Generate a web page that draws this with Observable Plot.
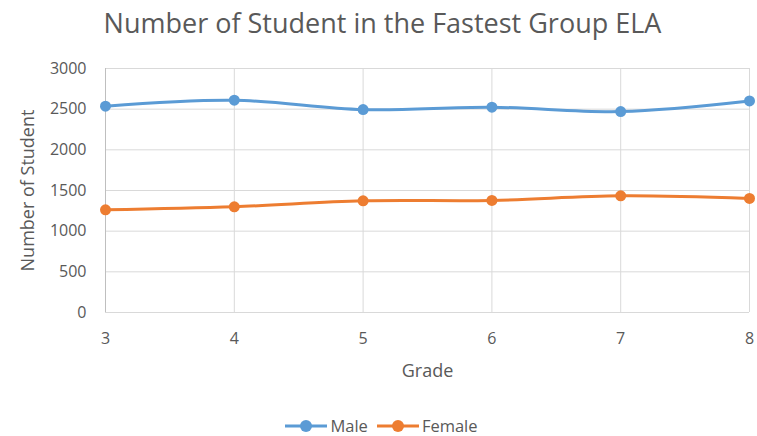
<!DOCTYPE html>
<html>
<head>
<meta charset="utf-8">
<script src="https://cdn.jsdelivr.net/npm/d3@7"></script>
<script src="https://cdn.jsdelivr.net/npm/@observablehq/plot@0.6"></script>
<style>
  html, body { margin: 0; padding: 0; background: #fff; }
  body { width: 757px; height: 436px; overflow: hidden; font-family: "Open Sans", Lato, sans-serif; color: #595959; }
  #title { height: 45px; line-height: 45px; text-align: center; font-size: 27px; color: #595959; padding-left: 8px; }
  #chart svg { display: block; }
  #legend { display: flex; justify-content: center; align-items: center; gap: 9px; font-size: 16.5px; line-height: 20px; color: #595959; height: 20px; margin-top: 16px; margin-left: 6px; }
  .item { display: flex; align-items: center; gap: 3px; }
</style>
</head>
<body>
<div id="title">Number of Student in the Fastest Group ELA</div>
<div id="chart"></div>
<div id="legend"></div>
<script>
const grades = [3, 4, 5, 6, 7, 8];
const male = [2537, 2610, 2495, 2524, 2471, 2601];
const female = [1263, 1300, 1373, 1378, 1434, 1402];
const seriesNames = ["Male", "Female"];
const colors = ["#5b9bd5", "#ed7d31"];
const yTicks = [0, 500, 1000, 1500, 2000, 2500, 3000];

const data = [];
grades.forEach((g, i) => {
  data.push({grade: g, value: male[i], series: "Male"});
  data.push({grade: g, value: female[i], series: "Female"});
});

const chart = Plot.plot({
  width: 757,
  height: 355,
  marginTop: 23,
  marginBottom: 88,
  marginLeft: 105,
  marginRight: 8,
  style: {fontFamily: "'Open Sans', Lato, sans-serif", fontSize: "16px", color: "#595959", background: "#fff"},
  x: {domain: [3, 8], ticks: grades, tickFormat: d => String(d), label: null},
  y: {domain: [0, 3000], ticks: yTicks, label: null},
  color: {domain: seriesNames, range: colors},
  marks: [
    Plot.gridY(yTicks, {stroke: "#d9d9d9", strokeOpacity: 1, strokeWidth: 1}),
    Plot.gridX(grades, {stroke: "#d9d9d9", strokeOpacity: 1, strokeWidth: 1}),
    Plot.ruleX([3], {stroke: "#bfbfbf"}),
    Plot.axisY(yTicks, {tickSize: 0, tickPadding: 19, fontSize: 16, fill: "#595959", label: null, tickFormat: d => String(d)}),
    Plot.axisX(grades, {tickSize: 0, tickPadding: 20, fontSize: 16, fill: "#595959", label: null, tickFormat: d => String(d)}),
    Plot.line(data, {x: "grade", y: "value", stroke: "series", z: "series", strokeWidth: 3, curve: "catmull-rom"}),
    Plot.dot(data, {x: "grade", y: "value", fill: "series", r: 5.5}),
    Plot.text(["Number of Student"], {frameAnchor: "left", textAnchor: "middle", dx: -77, rotate: -90, fontSize: 18, fill: "#595959"}),
    Plot.text(["Grade"], {frameAnchor: "bottom", textAnchor: "middle", dy: 64, fontSize: 18, fill: "#595959"})
  ]
});
document.getElementById("chart").appendChild(chart);

const legend = document.getElementById("legend");
seriesNames.forEach((name, i) => {
  const item = document.createElement("div");
  item.className = "item";
  item.innerHTML = `<svg width="42" height="14"><line x1="0" y1="7" x2="42" y2="7" stroke="${colors[i]}" stroke-width="3"/><circle cx="21" cy="7" r="6" fill="${colors[i]}"/></svg><span>${name}</span>`;
  legend.appendChild(item);
});
</script>
</body>
</html>
